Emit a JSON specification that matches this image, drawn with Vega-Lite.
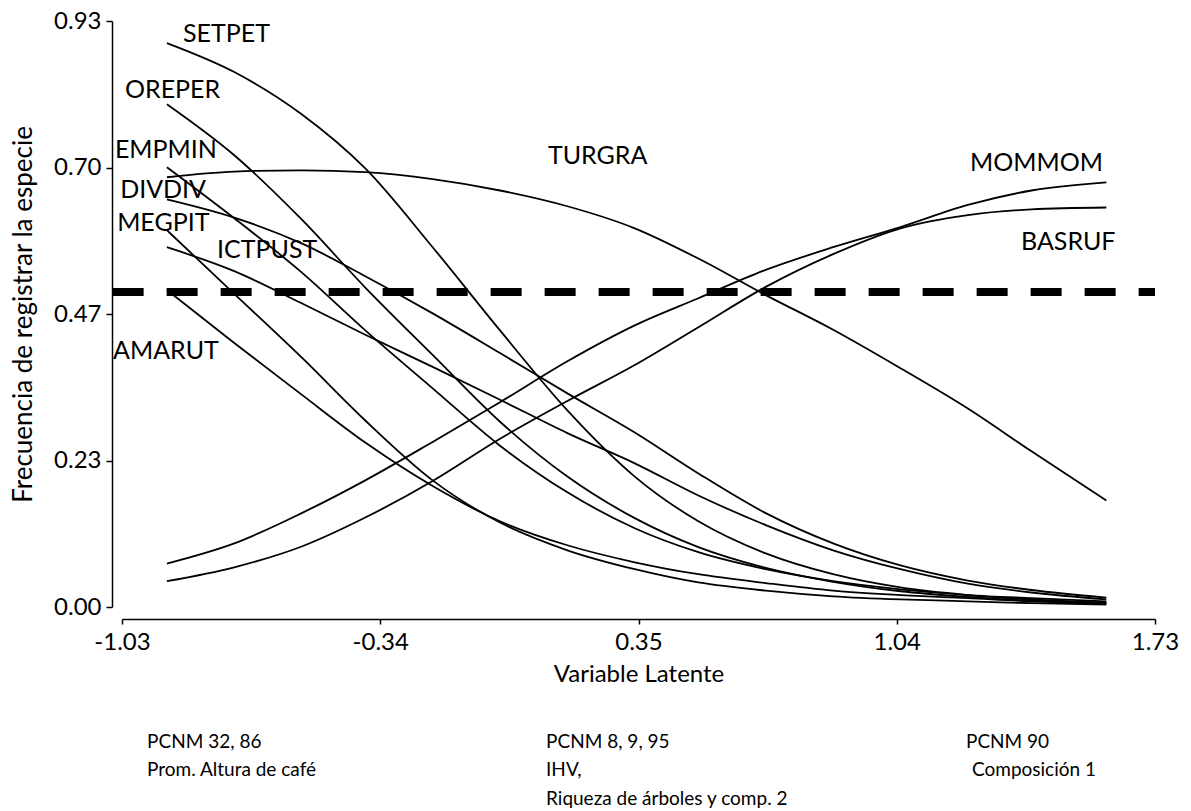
{
  "$schema": "https://vega.github.io/schema/vega-lite/v6.json",
  "width": 1033,
  "height": 586,
  "autosize": {"type": "none"},
  "padding": {"left": 122, "top": 21, "right": 36, "bottom": 204},
  "background": "white",
  "config": {
    "view": {"stroke": null},
    "font": "Lato",
    "axis": {
      "grid": false,
      "domainColor": "black",
      "domainWidth": 1.5,
      "tickColor": "black",
      "tickWidth": 1.5,
      "labelColor": "black",
      "titleColor": "black",
      "labelFont": "Lato",
      "titleFont": "Lato",
      "titleFontWeight": "normal",
      "labelFlush": false,
      "labelOverlap": false
    }
  },
  "datasets": {
    "curvas": [
      {"x": -0.91, "SETPET": 0.895, "OREPER": 0.798, "EMPMIN": 0.698, "DIVDIV": 0.647, "MEGPIT": 0.598, "ICTPUST": 0.571, "AMARUT": 0.503, "TURGRA": 0.682, "MOMMOM": 0.069, "BASRUF": 0.041},
      {"x": -0.73, "SETPET": 0.849, "OREPER": 0.717, "EMPMIN": 0.617, "DIVDIV": 0.618, "MEGPIT": 0.497, "ICTPUST": 0.533, "AMARUT": 0.419, "TURGRA": 0.691, "MOMMOM": 0.101, "BASRUF": 0.063},
      {"x": -0.55, "SETPET": 0.782, "OREPER": 0.615, "EMPMIN": 0.531, "DIVDIV": 0.577, "MEGPIT": 0.396, "ICTPUST": 0.482, "AMARUT": 0.337, "TURGRA": 0.693, "MOMMOM": 0.149, "BASRUF": 0.096},
      {"x": -0.38, "SETPET": 0.696, "OREPER": 0.507, "EMPMIN": 0.439, "DIVDIV": 0.525, "MEGPIT": 0.296, "ICTPUST": 0.432, "AMARUT": 0.261, "TURGRA": 0.690, "MOMMOM": 0.201, "BASRUF": 0.142},
      {"x": -0.20, "SETPET": 0.571, "OREPER": 0.400, "EMPMIN": 0.347, "DIVDIV": 0.466, "MEGPIT": 0.201, "ICTPUST": 0.381, "AMARUT": 0.192, "TURGRA": 0.679, "MOMMOM": 0.262, "BASRUF": 0.200},
      {"x": -0.02, "SETPET": 0.439, "OREPER": 0.294, "EMPMIN": 0.256, "DIVDIV": 0.403, "MEGPIT": 0.134, "ICTPUST": 0.329, "AMARUT": 0.136, "TURGRA": 0.661, "MOMMOM": 0.325, "BASRUF": 0.267},
      {"x": 0.16, "SETPET": 0.312, "OREPER": 0.207, "EMPMIN": 0.182, "DIVDIV": 0.339, "MEGPIT": 0.090, "ICTPUST": 0.276, "AMARUT": 0.098, "TURGRA": 0.636, "MOMMOM": 0.390, "BASRUF": 0.327},
      {"x": 0.34, "SETPET": 0.207, "OREPER": 0.141, "EMPMIN": 0.125, "DIVDIV": 0.277, "MEGPIT": 0.060, "ICTPUST": 0.228, "AMARUT": 0.071, "TURGRA": 0.601, "MOMMOM": 0.447, "BASRUF": 0.384},
      {"x": 0.51, "SETPET": 0.136, "OREPER": 0.095, "EMPMIN": 0.087, "DIVDIV": 0.212, "MEGPIT": 0.039, "ICTPUST": 0.177, "AMARUT": 0.052, "TURGRA": 0.553, "MOMMOM": 0.490, "BASRUF": 0.444},
      {"x": 0.69, "SETPET": 0.085, "OREPER": 0.062, "EMPMIN": 0.060, "DIVDIV": 0.149, "MEGPIT": 0.026, "ICTPUST": 0.130, "AMARUT": 0.038, "TURGRA": 0.495, "MOMMOM": 0.535, "BASRUF": 0.508},
      {"x": 0.87, "SETPET": 0.052, "OREPER": 0.040, "EMPMIN": 0.041, "DIVDIV": 0.101, "MEGPIT": 0.017, "ICTPUST": 0.090, "AMARUT": 0.026, "TURGRA": 0.440, "MOMMOM": 0.571, "BASRUF": 0.560},
      {"x": 1.05, "SETPET": 0.031, "OREPER": 0.025, "EMPMIN": 0.028, "DIVDIV": 0.066, "MEGPIT": 0.012, "ICTPUST": 0.060, "AMARUT": 0.019, "TURGRA": 0.379, "MOMMOM": 0.603, "BASRUF": 0.601},
      {"x": 1.23, "SETPET": 0.019, "OREPER": 0.016, "EMPMIN": 0.019, "DIVDIV": 0.042, "MEGPIT": 0.009, "ICTPUST": 0.037, "AMARUT": 0.014, "TURGRA": 0.315, "MOMMOM": 0.638, "BASRUF": 0.622},
      {"x": 1.40, "SETPET": 0.012, "OREPER": 0.010, "EMPMIN": 0.014, "DIVDIV": 0.027, "MEGPIT": 0.006, "ICTPUST": 0.023, "AMARUT": 0.009, "TURGRA": 0.247, "MOMMOM": 0.661, "BASRUF": 0.631},
      {"x": 1.60, "SETPET": 0.007, "OREPER": 0.006, "EMPMIN": 0.009, "DIVDIV": 0.015, "MEGPIT": 0.004, "ICTPUST": 0.012, "AMARUT": 0.006, "TURGRA": 0.169, "MOMMOM": 0.674, "BASRUF": 0.634}
    ],
    "umbral": [
      {"desde": -1.055, "hasta": 1.73, "p": 0.5}
    ],
    "etiquetas": [
      {"etiqueta": "SETPET", "x": -0.867, "p": 0.909},
      {"etiqueta": "OREPER", "x": -1.022, "p": 0.821},
      {"etiqueta": "EMPMIN", "x": -1.049, "p": 0.725},
      {"etiqueta": "DIVDIV", "x": -1.035, "p": 0.661},
      {"etiqueta": "MEGPIT", "x": -1.043, "p": 0.609},
      {"etiqueta": "ICTPUST", "x": -0.776, "p": 0.566},
      {"etiqueta": "AMARUT", "x": -1.054, "p": 0.407},
      {"etiqueta": "TURGRA", "x": 0.108, "p": 0.715},
      {"etiqueta": "MOMMOM", "x": 1.236, "p": 0.704},
      {"etiqueta": "BASRUF", "x": 1.372, "p": 0.579}
    ],
    "notas": [
      {"nota": "PCNM 32, 86", "x": -0.963, "p": -0.215},
      {"nota": "Prom. Altura de café", "x": -0.963, "p": -0.259},
      {"nota": "PCNM 8, 9, 95", "x": 0.103, "p": -0.215},
      {"nota": "IHV,", "x": 0.103, "p": -0.259},
      {"nota": "Riqueza de árboles y comp. 2", "x": 0.103, "p": -0.304},
      {"nota": "PCNM 90", "x": 1.225, "p": -0.215},
      {"nota": "Composición 1", "x": 1.241, "p": -0.259}
    ]
  },
  "layer": [
    {
      "data": {"name": "curvas"},
      "transform": [
        {"fold": ["SETPET", "OREPER", "EMPMIN", "DIVDIV", "MEGPIT", "ICTPUST", "AMARUT", "TURGRA", "MOMMOM", "BASRUF"], "as": ["especie", "p"]}
      ],
      "mark": {"type": "line", "color": "black", "strokeWidth": 1.8, "interpolate": "monotone"},
      "encoding": {
        "x": {
          "field": "x",
          "type": "quantitative",
          "scale": {"domain": [-1.03, 1.73], "nice": false, "zero": false},
          "axis": {
            "title": "Variable Latente",
            "values": [-1.03, -0.34, 0.35, 1.04, 1.73],
            "labelExpr": "datum.value < 0 ? '-' + format(-datum.value, '.2f') : format(datum.value, '.2f')",
            "offset": 12,
            "tickSize": 5,
            "labelFontSize": 24,
            "labelPadding": 6,
            "titleFontSize": 24,
            "titlePadding": 8
          }
        },
        "y": {
          "field": "p",
          "type": "quantitative",
          "scale": {"domain": [0, 0.93], "nice": false, "zero": false},
          "axis": {
            "title": "Frecuencia de registrar la especie",
            "values": [0, 0.2325, 0.465, 0.6975, 0.93],
            "format": ".2f",
            "offset": 10,
            "tickSize": 6,
            "labelFontSize": 24,
            "labelPadding": 5,
            "titleFontSize": 26,
            "titlePadding": 17
          }
        },
        "detail": {"field": "especie", "type": "nominal"}
      }
    },
    {
      "data": {"name": "umbral"},
      "mark": {"type": "rule", "color": "black", "strokeWidth": 8, "strokeDash": [31, 23]},
      "encoding": {
        "x": {"field": "desde", "type": "quantitative"},
        "x2": {"field": "hasta"},
        "y": {"field": "p", "type": "quantitative"}
      }
    },
    {
      "data": {"name": "etiquetas"},
      "mark": {"type": "text", "align": "left", "baseline": "middle", "fontSize": 25, "font": "Lato", "color": "black"},
      "encoding": {
        "x": {"field": "x", "type": "quantitative"},
        "y": {"field": "p", "type": "quantitative"},
        "text": {"field": "etiqueta"}
      }
    },
    {
      "data": {"name": "notas"},
      "mark": {"type": "text", "align": "left", "baseline": "middle", "fontSize": 19, "font": "Lato", "color": "black"},
      "encoding": {
        "x": {"field": "x", "type": "quantitative"},
        "y": {"field": "p", "type": "quantitative"},
        "text": {"field": "nota"}
      }
    }
  ]
}
